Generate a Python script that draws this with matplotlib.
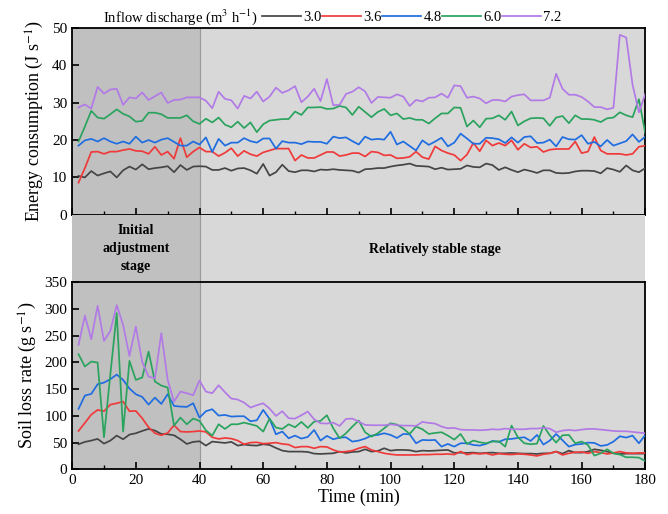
import numpy as np
import matplotlib
matplotlib.use("Agg")
import matplotlib.pyplot as plt

plt.rcParams['font.family'] = ['Liberation Serif', 'DejaVu Serif']
plt.rcParams['mathtext.fontset'] = 'stix'

# time (min), one sample every 2 min
time = np.arange(2, 181, 2)

discharges = ["3.0", "3.6", "4.8", "6.0", "7.2"]
colors = ["#454545", "#f03a3a", "#1f6de0", "#2aa35e", "#b27ae6"]

# Energy consumption (J s-1)
energy_30 = [10.4, 10.0, 11.7, 10.5, 11.1, 11.6, 10.0, 11.9, 12.9, 12.1, 13.5, 12.2, 12.5, 12.7, 13.0, 11.4, 13.3, 12.0, 12.9, 13.0,
             12.9, 12.0, 12.0, 12.5, 11.8, 12.4, 12.5, 11.9, 11.0, 13.6, 10.5, 11.4, 13.4, 11.7, 11.4, 11.9, 11.9, 11.6, 12.1, 12.0,
             12.2, 12.0, 11.9, 11.8, 11.3, 12.2, 12.3, 12.5, 12.5, 12.9, 13.2, 13.4, 13.7, 13.1, 13.0, 12.9, 12.2, 12.6, 12.1, 12.2,
             12.3, 13.2, 12.8, 12.7, 13.7, 13.3, 12.0, 12.7, 12.0, 11.4, 12.1, 11.7, 11.2, 11.9, 11.9, 11.2, 11.1, 11.2, 11.6, 11.8,
             11.8, 11.7, 11.1, 12.5, 12.1, 11.5, 13.2, 11.9, 11.4, 12.5]
energy_36 = [8.6, 12.5, 16.8, 16.9, 16.3, 16.9, 16.9, 17.3, 17.6, 17.1, 17.0, 16.3, 18.2, 16.0, 16.9, 15.0, 20.5, 15.4, 16.9, 18.0,
             16.9, 16.9, 15.7, 16.6, 17.8, 15.7, 17.1, 16.2, 15.7, 16.7, 17.2, 17.7, 17.7, 17.7, 14.5, 16.0, 15.2, 15.2, 16.0, 16.8,
             16.8, 15.7, 16.0, 16.5, 16.5, 15.6, 16.9, 16.7, 15.9, 16.0, 15.1, 15.2, 15.5, 16.9, 15.4, 14.9, 18.3, 17.2, 16.5, 16.0,
             14.5, 16.1, 19.2, 17.0, 19.9, 18.5, 19.2, 18.5, 19.9, 17.4, 19.0, 18.0, 18.2, 16.8, 17.4, 17.6, 17.6, 17.6, 19.6, 16.5,
             16.9, 20.8, 17.2, 16.3, 16.3, 16.3, 16.0, 16.3, 18.2, 18.5]
energy_48 = [18.5, 19.9, 20.3, 19.6, 20.5, 19.6, 19.0, 19.6, 19.0, 20.9, 19.3, 20.0, 19.3, 20.1, 20.5, 19.5, 18.5, 18.5, 19.6, 18.8,
             20.7, 16.8, 20.3, 18.5, 19.3, 19.3, 20.5, 19.7, 19.3, 20.4, 20.4, 17.7, 19.7, 19.3, 19.3, 18.9, 19.6, 19.5, 19.5, 19.0,
             20.9, 20.5, 20.7, 19.7, 18.8, 20.9, 20.1, 20.3, 20.1, 22.2, 18.8, 19.6, 18.4, 17.2, 19.9, 18.7, 19.6, 20.6, 18.3, 19.3,
             21.7, 20.4, 19.0, 19.0, 20.6, 20.5, 20.2, 19.2, 20.7, 19.3, 20.8, 21.0, 19.2, 19.3, 20.1, 18.3, 20.8, 20.2, 20.1, 21.3,
             19.0, 19.5, 18.3, 20.0, 18.5, 19.1, 19.7, 21.5, 19.5, 20.9]
energy_60 = [19.6, 23.6, 27.8, 26.0, 25.7, 26.9, 28.2, 27.0, 26.3, 24.9, 25.1, 27.3, 27.3, 26.9, 25.9, 25.9, 25.9, 26.6, 25.0, 24.3,
             25.7, 24.7, 26.0, 24.1, 23.4, 24.9, 23.2, 24.7, 22.1, 24.2, 25.2, 25.4, 25.6, 25.6, 27.6, 26.7, 28.7, 28.7, 28.8, 28.3,
             28.4, 29.1, 28.7, 26.7, 28.9, 27.5, 26.1, 27.5, 28.3, 26.6, 27.1, 25.6, 25.9, 25.4, 25.4, 24.4, 25.8, 27.1, 27.1, 28.7,
             28.6, 23.6, 25.2, 23.4, 25.7, 25.8, 26.6, 25.4, 27.6, 23.9, 25.0, 25.8, 25.9, 25.8, 23.8, 26.0, 26.4, 24.5, 26.6, 25.6,
             25.6, 25.4, 24.8, 25.8, 26.0, 27.4, 26.6, 26.1, 30.9, 21.8]
energy_72 = [28.7, 29.5, 28.4, 34.2, 32.4, 33.5, 33.7, 29.4, 31.4, 31.1, 32.7, 30.7, 31.7, 32.7, 29.9, 30.7, 30.8, 31.4, 31.4, 31.4,
             30.5, 28.5, 32.9, 31.0, 30.6, 28.4, 31.8, 31.1, 32.9, 30.3, 31.6, 34.0, 32.6, 33.3, 34.4, 30.1, 31.6, 33.7, 30.4, 36.3,
             29.3, 29.4, 32.3, 32.9, 34.1, 33.0, 29.9, 31.5, 31.4, 31.3, 32.2, 31.6, 29.1, 30.7, 30.3, 31.3, 31.4, 32.4, 31.3, 34.6,
             34.4, 31.3, 31.6, 31.1, 29.8, 30.7, 30.7, 30.3, 31.6, 32.0, 32.2, 30.6, 30.6, 30.6, 31.3, 37.7, 33.7, 32.1, 32.1, 31.5,
             30.3, 28.8, 28.8, 28.2, 28.6, 48.1, 47.4, 34.8, 27.4, 32.3]

# Soil loss rate (g s-1)
soil_30 = [46.8, 51.2, 53.7, 56.8, 48.0, 53.7, 63.0, 56.2, 64.9, 67.4, 71.7, 75.5, 72.4, 66.1, 65.5, 63.6, 56.2, 47.4, 51.2, 52.4,
           44.3, 51.8, 50.5, 49.3, 51.2, 44.3, 46.2, 44.9, 44.3, 46.8, 45.5, 39.9, 34.9, 33.1, 33.1, 33.1, 32.4, 29.3, 28.7, 29.3,
           29.9, 33.1, 30.6, 32.4, 33.1, 37.4, 33.1, 34.3, 39.3, 34.9, 36.2, 36.2, 35.6, 33.1, 34.9, 34.3, 34.9, 35.6, 36.2, 30.6,
           31.2, 30.6, 31.2, 29.9, 30.6, 31.2, 29.9, 29.9, 30.6, 29.9, 29.3, 29.3, 28.7, 29.9, 29.9, 33.1, 29.3, 34.9, 31.2, 31.2,
           33.1, 37.4, 35.6, 33.1, 29.9, 28.7, 29.3, 29.3, 29.3, 29.3]
soil_36 = [71.7, 86.7, 102.3, 111.1, 108.6, 121.0, 123.5, 126.7, 108.6, 109.2, 95.5, 78.6, 67.4, 63.6, 68.0, 82.4, 70.5, 69.9, 70.5, 71.7,
           69.9, 59.9, 56.8, 58.6, 57.4, 53.7, 46.8, 49.9, 50.5, 48.0, 48.7, 49.9, 47.4, 46.2, 40.6, 42.4, 42.4, 39.3, 42.4, 41.8,
           36.2, 32.4, 33.1, 34.9, 39.3, 42.4, 36.2, 33.1, 29.9, 28.1, 26.8, 26.8, 26.8, 26.8, 27.5, 27.5, 28.1, 28.1, 28.7, 27.5,
           33.1, 27.5, 29.9, 28.7, 29.9, 26.8, 29.3, 28.1, 27.5, 28.7, 28.1, 26.8, 25.0, 28.1, 29.9, 33.1, 26.8, 29.9, 31.8, 32.4,
           29.9, 33.1, 31.2, 28.7, 30.6, 33.1, 30.6, 29.9, 30.6, 30.6]
soil_48 = [112.9, 137.9, 141.0, 159.1, 162.2, 168.5, 177.2, 167.2, 151.0, 140.4, 135.4, 121.0, 134.1, 122.3, 140.4, 118.5, 117.3, 116.7, 123.5, 96.7,
           108.6, 112.3, 100.4, 101.7, 98.6, 99.2, 99.2, 89.8, 91.7, 111.1, 94.2, 65.5, 70.5, 58.0, 63.0, 57.4, 60.5, 73.6, 53.7, 62.4,
           56.2, 59.3, 59.9, 51.8, 53.7, 57.4, 63.0, 64.3, 67.4, 64.3, 58.6, 66.1, 65.5, 48.7, 54.9, 54.3, 54.9, 42.4, 47.4, 42.4,
           48.7, 48.7, 45.5, 44.3, 47.4, 53.0, 51.2, 56.2, 56.8, 58.6, 59.9, 53.0, 64.3, 46.2, 53.7, 66.1, 54.3, 42.4, 46.2, 47.4,
           49.9, 49.3, 43.7, 45.5, 51.8, 61.8, 59.3, 63.0, 48.7, 64.3]
soil_60 = [215.2, 192.2, 201.5, 199.7, 59.9, 178.0, 292.0, 70.5, 202.8, 167.2, 171.6, 220.2, 164.1, 156.6, 152.9, 81.7, 96.7, 84.2, 94.8, 90.5,
           73.0, 63.0, 84.2, 75.5, 84.2, 84.2, 87.3, 84.2, 81.1, 70.5, 94.8, 78.0, 75.5, 84.2, 78.6, 88.6, 77.4, 89.2, 90.5, 101.1,
           76.7, 58.0, 67.4, 79.9, 91.1, 69.3, 61.1, 67.4, 76.7, 86.1, 83.6, 76.1, 66.1, 79.9, 74.9, 66.1, 68.0, 69.3, 63.0, 55.5,
           66.1, 47.4, 53.7, 50.5, 48.7, 51.8, 52.4, 42.4, 81.7, 59.9, 48.7, 46.8, 48.0, 81.1, 63.6, 49.9, 63.6, 64.3, 48.7, 51.8,
           45.5, 25.6, 29.9, 37.4, 29.9, 27.5, 22.5, 22.5, 21.8, 15.6]
soil_72 = [232.7, 287.6, 243.3, 305.7, 240.2, 258.9, 307.0, 270.1, 212.1, 267.0, 200.9, 173.4, 170.3, 254.6, 167.2, 126.7, 145.4, 142.3, 138.5, 166.0,
           145.4, 142.3, 157.2, 144.1, 132.3, 130.4, 124.8, 115.4, 119.8, 123.5, 113.6, 99.8, 108.6, 95.5, 94.8, 101.1, 107.9, 93.6, 86.1, 85.5,
           87.3, 81.1, 94.2, 94.8, 89.2, 83.0, 82.4, 82.4, 82.4, 84.2, 82.4, 81.7, 81.7, 81.1, 88.6, 86.7, 85.5, 79.9, 76.7, 77.4,
           74.2, 73.6, 73.6, 73.0, 73.6, 74.9, 74.2, 76.1, 74.9, 74.9, 74.9, 76.1, 76.1, 77.4, 76.1, 69.3, 72.4, 73.6, 72.4, 74.2,
           75.5, 75.5, 74.2, 73.0, 71.7, 71.1, 71.1, 69.9, 68.6, 67.4]

energy = [energy_30, energy_36, energy_48, energy_60, energy_72]
soil = [soil_30, soil_36, soil_48, soil_60, soil_72]

dark_gray = "#c0c0c0"
light_gray = "#d8d8d8"

fig = plt.figure(figsize=(6.68, 5.14), dpi=100)
left, width = 0.108, 0.858
ax1 = fig.add_axes([left, 0.582, width, 0.364])
axm = fig.add_axes([left, 0.451, width, 0.131])
ax2 = fig.add_axes([left, 0.087, width, 0.364])

for ax in (ax1, axm, ax2):
    ax.set_xlim(0, 180)
    ax.axvspan(0, 40, color=dark_gray, lw=0, zorder=0)
    ax.axvspan(40, 180, color=light_gray, lw=0, zorder=0)
    ax.axvline(40, color="#999999", lw=0.8, zorder=1)

# middle band with stage labels
axm.set_ylim(0, 1)
axm.set_xticks([])
axm.set_yticks([])
for s in axm.spines.values():
    s.set_visible(False)
axm.text(20, 0.5, "Initial\nadjustment\nstage", ha="center", va="center",
         fontsize=10, fontweight="bold", linespacing=1.5)
axm.text(114, 0.48, "Relatively stable stage", ha="center", va="center",
         fontsize=10, fontweight="bold")

lines = []
for vals, c, lab in zip(energy, colors, discharges):
    ln, = ax1.plot(time, vals, color=c, lw=1.25, label=lab, zorder=3)
    lines.append(ln)
for vals, c in zip(soil, colors):
    ax2.plot(time, vals, color=c, lw=1.25, zorder=3)

ax1.set_ylim(0, 50)
ax1.set_yticks(np.arange(0, 51, 10))
ax2.set_ylim(0, 350)
ax2.set_yticks(np.arange(0, 351, 50))

for ax in (ax1, ax2):
    ax.set_xticks(np.arange(0, 181, 20))
    ax.set_xticks(np.arange(0, 181, 10), minor=True)
    ax.tick_params(axis="both", which="major", direction="in", length=5, width=1.2, labelsize=11)
    ax.tick_params(axis="x", which="minor", direction="in", length=3, width=1.0)
    ax.tick_params(axis="y", which="minor", left=False)
    for s in ax.spines.values():
        s.set_linewidth(1.3)

ax1.tick_params(axis="x", which="both", labelbottom=False)

ax1.set_ylabel("Energy consumption (J s$^{-1}$)", fontsize=13, labelpad=4)
ax2.set_ylabel("Soil loss rate (g s$^{-1}$)", fontsize=13, labelpad=4)
ax2.set_xlabel("Time (min)", fontsize=13, labelpad=1)

# legend across the top
fig.text(258 / 668, 1 - 17 / 514, "Inflow discharge (m$^3$ h$^{-1}$)",
         ha="right", va="center", fontsize=10.5)
fig.legend(handles=lines, labels=discharges, loc="center left",
           bbox_to_anchor=(262 / 668, 1 - 17 / 514), ncol=5, frameon=False,
           fontsize=10.5, handlelength=2.7, handletextpad=0.15, columnspacing=0.0,
           borderaxespad=0, borderpad=0)

fig.savefig("out.png", dpi=100)
